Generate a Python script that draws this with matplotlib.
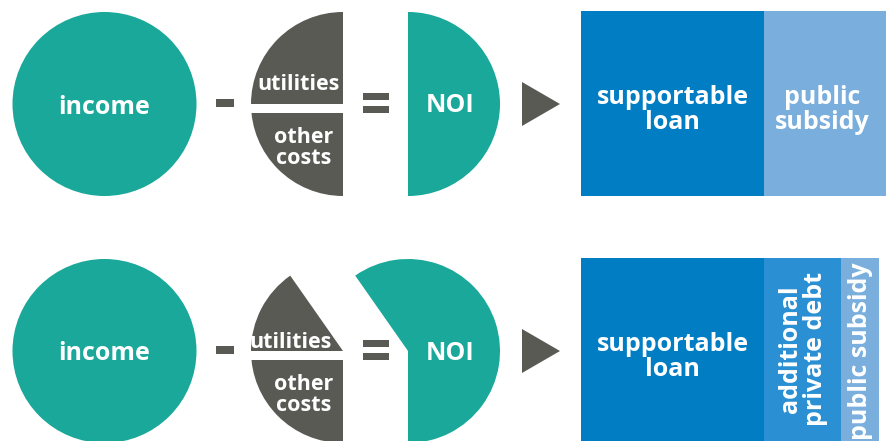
import matplotlib
matplotlib.use('Agg')
import matplotlib.pyplot as plt
from matplotlib.patches import Circle, Wedge, Rectangle, Polygon

plt.rcParams['font.family'] = ['Open Sans', 'DejaVu Sans']

# colours
TEAL = '#19a899'
GREY = '#5a5a55'
BLUE = '#017dc4'
MIDBLUE = '#2b90d3'
LIGHTBLUE = '#7aaedd'

# data
row_y = [104, 351]                 # centre line of each row
utilities_deg = [90, 55]           # size of the "utilities" slice
noi_deg = [180, 215]               # size of the NOI slice
top_bar_labels = ['supportable\nloan', 'public\nsubsidy']
top_bar_values = [183, 122]
bottom_bar_labels = ['supportable\nloan', 'additional\nprivate debt', 'public subsidy']
bottom_bar_values = [183, 77, 38]
bottom_bar_colors = [BLUE, MIDBLUE, LIGHTBLUE]

R = 92
FS = 18


def wedge(ax, c, a1, a2, color):
    # angles given as they look on screen (y axis is flipped)
    ax.add_patch(Wedge(c, R, -a2, -a1, facecolor=color, edgecolor='none'))


def label(ax, x, y, s, size=FS, rot=0, ls=1.0):
    ax.text(x, y, s, color='white', fontsize=size, fontweight='bold',
            ha='center', va='center', rotation=rot, linespacing=ls)


fig = plt.figure(figsize=(8.86, 4.41), dpi=100)
ax = fig.add_axes([0, 0, 1, 1])
ax.set_xlim(0, 886)
ax.set_ylim(441, 0)
ax.set_aspect('equal')
ax.axis('off')

for i, cy in enumerate(row_y):
    # income
    ax.add_patch(Circle((104.5, cy), R, color=TEAL, ec='none'))
    label(ax, 104.5, cy + 3, 'income')

    # minus
    ax.add_patch(Rectangle((216, cy - 5), 18, 8, color=GREY, ec='none'))

    # costs
    ut = utilities_deg[i]
    wedge(ax, (343, cy), 180 - ut, 180, GREY)
    wedge(ax, (343, cy), 180, 270, GREY)
    ax.add_patch(Rectangle((245, cy), 100, 9, color='white', ec='none'))

    # equals
    ax.add_patch(Rectangle((363, cy - 11), 26, 7, color=GREY, ec='none'))
    ax.add_patch(Rectangle((363, cy + 2), 26, 7, color=GREY, ec='none'))

    # NOI
    wedge(ax, (408, cy), -90, -90 + noi_deg[i], TEAL)
    label(ax, 450, cy + 2, 'NOI')

    # arrow
    ax.add_patch(Polygon([(522, cy - 22), (522, cy + 22), (560, cy)],
                         color=GREY, ec='none'))

# costs labels
label(ax, 299, 84, 'utilities', size=15.5)
label(ax, 304, 148, 'other\ncosts', size=15.5, ls=1.05)
label(ax, 291, 342, 'utilities', size=15.5)
label(ax, 304, 395, 'other\ncosts', size=15.5, ls=1.05)

# top stacked bar
left = 581
ax.barh(103.5, top_bar_values, height=185,
        left=[left, left + top_bar_values[0]],
        color=[BLUE, LIGHTBLUE], edgecolor='none', align='center')
label(ax, left + top_bar_values[0] / 2, 110, top_bar_labels[0], ls=1.05)
label(ax, left + top_bar_values[0] + 58, 110, top_bar_labels[1], ls=1.05)

# bottom stacked bar
lefts = [left]
for v in bottom_bar_values[:-1]:
    lefts.append(lefts[-1] + v)
ax.barh(350, bottom_bar_values, height=184, left=lefts,
        color=bottom_bar_colors, edgecolor='none', align='center')
label(ax, lefts[0] + bottom_bar_values[0] / 2, 357, bottom_bar_labels[0], ls=1.05)
label(ax, lefts[1] + bottom_bar_values[1] / 2 + 1, 349, bottom_bar_labels[1],
      rot=90)
label(ax, lefts[2] + bottom_bar_values[2] / 2 + 1, 351, bottom_bar_labels[2],
      rot=90)

fig.savefig('out.png', dpi=100)
